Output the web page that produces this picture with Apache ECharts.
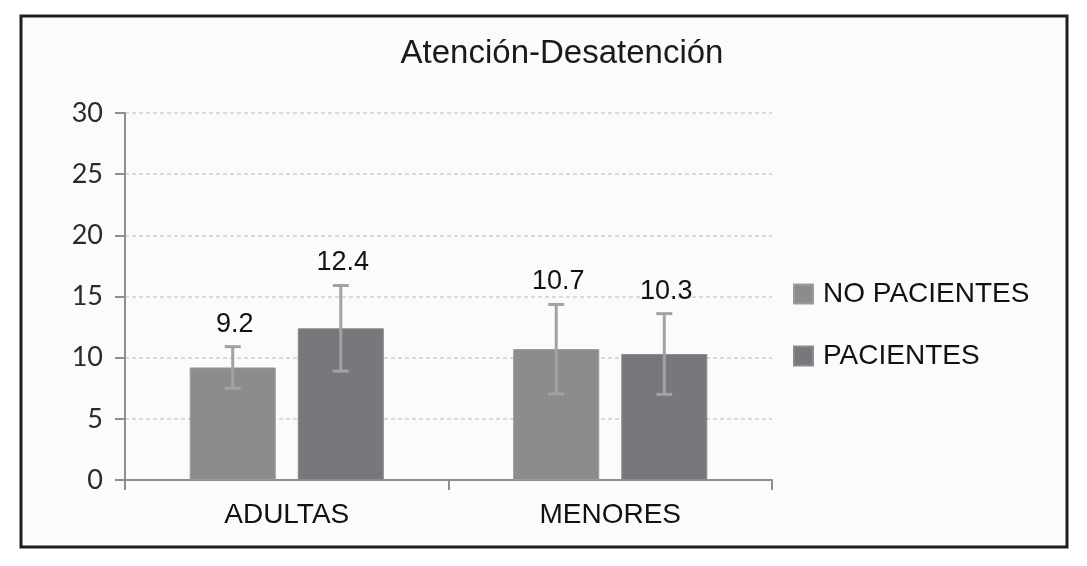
<!DOCTYPE html>
<html>
<head>
<meta charset="utf-8">
<script src="https://cdn.jsdelivr.net/npm/echarts@6/dist/echarts.min.js"></script>
<style>
html,body{margin:0;padding:0;background:#fff;}
#chart{width:1087px;height:566px;}
</style>
</head>
<body>
<div id="chart"></div>
<script>
var titleText = 'Atención-Desatención';
var categories = ['ADULTAS', 'MENORES'];
var seriesNames = ['NO PACIENTES', 'PACIENTES'];
var noPacientes = [9.2, 10.7];
var pacientes = [12.4, 10.3];
var noPacientesLow = [7.5, 7.05];
var noPacientesHigh = [10.9, 14.35];
var pacientesLow = [8.9, 7.0];
var pacientesHigh = [15.9, 13.6];
var yTicks = [0, 5, 10, 15, 20, 25, 30];

var BAR_CAT_GAP = 0.4, BAR_GAP = 0.256;

function errData(vals, lows, highs) {
  return vals.map(function (v, i) { return [i, lows[i], highs[i], v]; });
}

function makeErrRender(seriesIdx) {
  return function (params, api) {
    var i = api.value(0);
    var lo = api.coord([i, api.value(1)]);
    var hi = api.coord([i, api.value(2)]);
    var band = api.size([1, 0])[0];
    var avail = band * (1 - BAR_CAT_GAP);
    var bw = avail / (2 + BAR_GAP);
    var off = seriesIdx === 0 ? (-avail / 2 + bw / 2) : (avail / 2 - bw / 2);
    var x = lo[0] + off;
    var cap = 8;
    var st = { stroke: '#a2a2a4', lineWidth: 3 };
    return {
      type: 'group',
      children: [
        { type: 'line', shape: { x1: x, y1: lo[1], x2: x, y2: hi[1] }, style: st },
        { type: 'line', shape: { x1: x - cap, y1: hi[1], x2: x + cap, y2: hi[1] }, style: st },
        { type: 'line', shape: { x1: x - cap, y1: lo[1], x2: x + cap, y2: lo[1] }, style: st },
        { type: 'text', x: x + 2, y: hi[1] - 9,
          style: { text: String(api.value(3)), align: 'center', verticalAlign: 'bottom',
                   fontSize: 27, fontFamily: 'Liberation Sans, Arial, sans-serif', fill: '#111' } }
      ]
    };
  };
}

var chart = echarts.init(document.getElementById('chart'), null, { renderer: 'canvas' });
chart.setOption({
  backgroundColor: '#ffffff',
  animation: false,
  graphic: [{
    type: 'rect', z: -100,
    shape: { x: 21, y: 16, width: 1046, height: 531 },
    style: { fill: '#fbfbfb', stroke: '#1e1e1e', lineWidth: 3 }
  }],
  title: {
    text: titleText,
    left: 557, top: 32, textAlign: 'center',
    textStyle: { fontSize: 33, fontWeight: 'normal', color: '#1a1a1a', fontFamily: 'Liberation Sans, Arial, sans-serif' }
  },
  legend: {
    orient: 'vertical',
    left: 788, top: 275,
    itemWidth: 19, itemHeight: 19, itemGap: 34,
    icon: 'rect',
    data: seriesNames,
    textStyle: { fontSize: 28, lineHeight: 28, color: '#111', padding: [0, 0, 0, 5], fontFamily: 'Liberation Sans, Arial, sans-serif' }
  },
  grid: { left: 125, right: 315, top: 113, bottom: 86, containLabel: false },
  xAxis: {
    type: 'category',
    data: categories,
    axisLine: { lineStyle: { color: '#8e8e8e', width: 2 } },
    axisTick: { show: true, alignWithLabel: false, length: 10, lineStyle: { color: '#8e8e8e', width: 2 } },
    axisLabel: { fontSize: 28, color: '#111', margin: 21, fontFamily: 'Liberation Sans, Arial, sans-serif' }
  },
  yAxis: {
    type: 'value',
    min: 0, max: 30, interval: 5,
    axisLine: { show: true, lineStyle: { color: '#8e8e8e', width: 2 } },
    axisTick: { show: true, length: 10, lineStyle: { color: '#8e8e8e', width: 2 } },
    axisLabel: { fontSize: 27, color: '#2a2a2a', margin: 22, fontFamily: 'Lato, Open Sans, sans-serif',
                 customValues: yTicks },
    splitLine: { show: true, lineStyle: { color: '#cfcfcf', type: [4, 3], width: 1.5 } }
  },
  series: [
    { name: seriesNames[0], type: 'bar', data: noPacientes, barCategoryGap: (BAR_CAT_GAP * 100) + '%', barGap: (BAR_GAP * 100) + '%',
      itemStyle: { color: '#8b8c8e', borderColor: '#9a9b9d', borderWidth: 1 } },
    { name: seriesNames[1], type: 'bar', data: pacientes, barCategoryGap: (BAR_CAT_GAP * 100) + '%', barGap: (BAR_GAP * 100) + '%',
      itemStyle: { color: '#77787b', borderColor: '#8a8b8d', borderWidth: 1 } },
    { name: 'err0', type: 'custom', renderItem: makeErrRender(0), data: errData(noPacientes, noPacientesLow, noPacientesHigh), z: 5 },
    { name: 'err1', type: 'custom', renderItem: makeErrRender(1), data: errData(pacientes, pacientesLow, pacientesHigh), z: 5 }
  ]
});
</script>
</body>
</html>
